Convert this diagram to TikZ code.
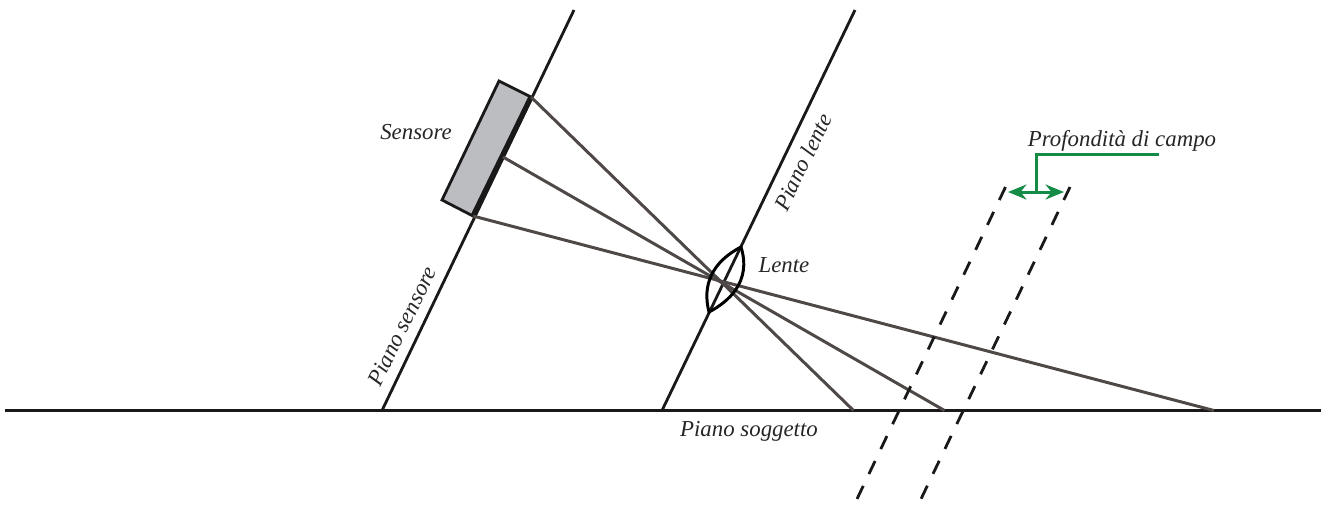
\documentclass[tikz,border=0pt]{standalone}
\usepackage{fontspec}
\setmainfont{Liberation Serif}
\usetikzlibrary{arrows.meta}
\definecolor{raygray}{RGB}{78,72,70}
\definecolor{dofgreen}{RGB}{20,140,70}
\definecolor{sensorgray}{RGB}{188,189,193}

\begin{document}
\begin{tikzpicture}[
  x=0.02cm, y=-0.02cm, >=Stealth,
  lbl/.style={font=\fontsize{13pt}{15pt}\selectfont\itshape, text=black!85, inner sep=0pt},
  plane/.style={draw=black!90, line width=1.6pt},
  ray/.style={draw=raygray, line width=1.7pt},
  dof/.style={draw=black!90, line width=1.6pt, dash pattern=on 8.2pt off 7.5pt},
  leader/.style={draw=dofgreen, line width=1.7pt},
]
\useasboundingbox (0,0) rectangle (1330,505);

%% Reference points
\coordinate (gl) at (5,410.5);
\coordinate (gr) at (1321,410.5);
\coordinate (st) at (574,10);
\coordinate (sb) at (382,410.5);
\coordinate (lt) at (855,10);
\coordinate (lb) at (662,410.5);

%% Sensor
\coordinate (s1) at (499,81);
\coordinate (s2) at (531,97);
\coordinate (s3) at (473,216);
\coordinate (s4) at (442,200);
\coordinate (sm) at (503,157);
\draw[fill=sensorgray, draw=black!90, line width=1.6pt] (s1) -- (s2) -- (s3) -- (s4) -- cycle;
\draw[draw=black!90, line width=2.9pt] (s2) -- (s3);

%% Planes
\draw[plane] (gl) -- (gr);
\draw[plane] (st) -- (sb);
\draw[plane] (lt) -- (lb);

%% Rays through the lens
\coordinate (g1) at (853.5,410.5);
\coordinate (g2) at (944.5,410.5);
\coordinate (g3) at (1214,410.5);
\draw[ray] (s2) -- (g1);
\draw[ray] (sm) -- (g2);
\draw[ray] (s3) -- (g3);

%% Lens
\coordinate (ctop) at (741,247);
\coordinate (cbot) at (709,312);
\draw[draw=black, line width=1.7pt] (ctop) .. controls (712,262) and (702,285) .. (cbot)
  .. controls (728,302) and (752,282) .. cycle;

%% Depth of field
\coordinate (d1a) at (1005.5,187);
\coordinate (d1b) at (857,499);
\coordinate (d2a) at (1070,187);
\coordinate (d2b) at (921,499);
\draw[dof] (d1a) -- (d1b);
\draw[dof] (d2a) -- (d2b);

%% Green leader
\coordinate (ga) at (1008,192);
\coordinate (gb) at (1064,192);
\coordinate (gc) at (1036,192);
\coordinate (gd) at (1036,154);
\coordinate (ge) at (1159,154);
\draw[leader, <->, >={Stealth[length=10.5pt,width=8.5pt]}] (ga) -- (gb);
\draw[leader] (gc) -- (gd) -- (ge);

%% Labels
\node[lbl] (sensore) at (416,132) {Sensore};
\node[lbl] (lente) at (784,265) {Lente};
\node[lbl] (soggetto) at (749,431) {Piano soggetto};
\node[lbl] (profondita) at (1122,141) {Profondità di campo};
\node[lbl, rotate=64] (pianosensore) at (402,326) {Piano sensore};
\node[lbl, rotate=64] (pianolente) at (803,162) {Piano lente};

\end{tikzpicture}
\end{document}
